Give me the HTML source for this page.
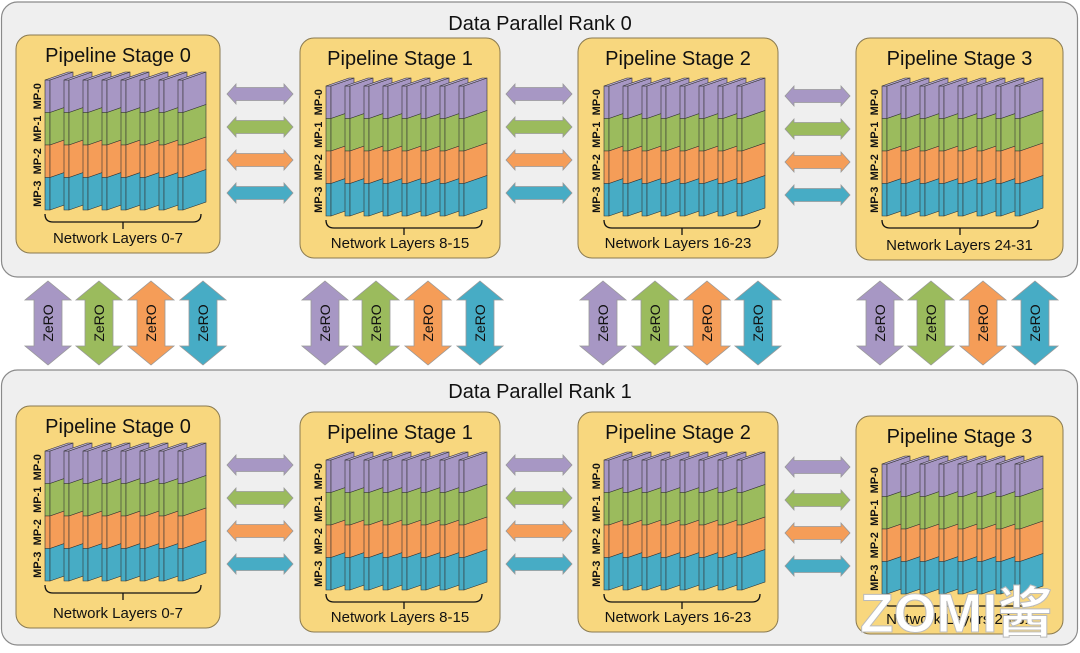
<!DOCTYPE html>
<html><head><meta charset="utf-8"><style>
html,body{margin:0;padding:0;background:#fff;}
svg text{font-family:"Liberation Sans","Noto Sans CJK SC",sans-serif;}
</style></head><body>
<svg id="s" width="1080" height="648" viewBox="0 0 1080 648" xmlns="http://www.w3.org/2000/svg"></svg>
<script>
const NS="http://www.w3.org/2000/svg";
const svg=document.getElementById('s');
const COLORS=['#a797c4','#9bbb5d','#f59d58','#47acc5'];
function el(tag,attrs,parent){const e=document.createElementNS(NS,tag);for(const k in attrs)e.setAttribute(k,attrs[k]);(parent||svg).appendChild(e);return e;}
function txt(x,y,s,size,extra,parent){const t=el('text',Object.assign({x:x,y:y,'font-size':size,'text-anchor':'middle',fill:'#111'},extra||{}),parent);t.textContent=s;return t;}

const ranks=[{y:2,label:'Data Parallel Rank 0'},{y:370,label:'Data Parallel Rank 1'}];
const stagePos=[[[16,35,204,218],[300,38,200,220],[578,38,200,220],[856,38,207,222]],
                [[16,406,204,222],[300,412,200,220],[578,412,200,220],[856,416,207,218]]];
const layerLabels=['0-7','8-15','16-23','24-31'];

ranks.forEach((r,ri)=>{
  const g=el('g',{});
  
  
  el('rect',{x:1.5,y:r.y,width:1076,height:275,rx:16,fill:'#efefef',stroke:'#8a8a8a','stroke-width':1.2},g);
  const t=txt(540,r.y+28,r.label,20,{},g);
  
  
  stagePos[ri].forEach((p,si)=>{
    const [sx,sy,w,h]=p;
    const sg=el('g',{},g);
    
    
    el('rect',{x:sx,y:sy,width:w,height:h,rx:14,fill:'#f8d77e',stroke:'#8a7a50','stroke-width':1},sg);
    txt(sx+w/2,sy+27,'Pipeline Stage '+si,20,{},sg);
    const lx=sx+(si==0?29:26), top=sy+(si==0?37:40);
    const bandH=32.5, step=19, sideW=23;
    for(let i=0;i<8;i++){
      const x0=lx+i*step;
      for(let b=0;b<4;b++){
        const y0=top+8+b*bandH;
        el('polygon',{points:`${x0},${y0} ${x0+5},${y0} ${x0+5},${y0+bandH} ${x0},${y0+bandH}`,fill:COLORS[b],stroke:'#333','stroke-width':0.6},sg);
        el('polygon',{points:`${x0+5},${y0} ${x0+5+sideW},${y0-8} ${x0+5+sideW},${y0-8+bandH} ${x0+5},${y0+bandH}`,fill:COLORS[b],stroke:'#333','stroke-width':0.6},sg);
      }
      el('polygon',{points:`${x0},${top+8} ${x0+sideW},${top} ${x0+5+sideW},${top} ${x0+5},${top+8}`,fill:'#b9abd3',stroke:'#333','stroke-width':0.6},sg);
    }
    ['MP-0','MP-1','MP-2','MP-3'].forEach((m,b)=>{
      const cx=lx-8, cy=top+8+b*bandH+bandH/2;
      txt(cx,cy+4,m,11,{'font-weight':'bold',transform:`rotate(-90 ${cx} ${cy})`},sg);
    });
    const by=top+8+4*bandH+4, bx1=lx, bx2=lx+7*step+sideW;
    el('path',{d:`M${bx1},${by} q0,8 8,8 H${bx2-8} q8,0 8,-8 M${(bx1+bx2)/2},${by+8} v7`,fill:'none',stroke:'#111','stroke-width':1.3},sg);
    txt(sx+w/2,sy+h-10,'Network Layers '+layerLabels[si],15,{},sg);
  });
  [0,1,2].forEach(k=>{
    const ax1=[227,506,785][k], ax2=[293,572,850][k];
    const baseY=r.y+(ri==0?92:95)+(k==2?2:0);
    for(let b=0;b<4;b++){
      const cy=baseY+b*33, hw=10, sw=6.5, hl=9;
      const a=el('polygon',{points:`${ax1},${cy} ${ax1+hl},${cy-hw} ${ax1+hl},${cy-sw} ${ax2-hl},${cy-sw} ${ax2-hl},${cy-hw} ${ax2},${cy} ${ax2-hl},${cy+hw} ${ax2-hl},${cy+sw} ${ax1+hl},${cy+sw} ${ax1+hl},${cy+hw}`,fill:COLORS[b],stroke:'#999','stroke-width':0.8},g);
      
      
    }
  });
});

const zx=[48,99,151,203,325,376,428,480,603,655,707,758,880,931,983,1035];
zx.forEach((cx,i)=>{
  const b=i%4, y1=281, y2=365, hw=23, sw=14, hl=19;
  const g=el('g',{});
  
  
  el('polygon',{points:`${cx},${y1} ${cx+hw},${y1+hl} ${cx+sw},${y1+hl} ${cx+sw},${y2-hl} ${cx+hw},${y2-hl} ${cx},${y2} ${cx-hw},${y2-hl} ${cx-sw},${y2-hl} ${cx-sw},${y1+hl} ${cx-hw},${y1+hl}`,fill:COLORS[b],stroke:'#999','stroke-width':0.8},g);
  const cy=(y1+y2)/2;
  txt(cx,cy+5,'ZeRO',14,{transform:`rotate(-90 ${cx} ${cy})`},g);
});

const wm=el('text',{x:860,y:632,'font-size':55,'font-weight':'bold',fill:'#ffffff',stroke:'#bbb','stroke-width':1,'text-anchor':'start'});
wm.textContent='ZOMI酱';


</script>
</body></html>
